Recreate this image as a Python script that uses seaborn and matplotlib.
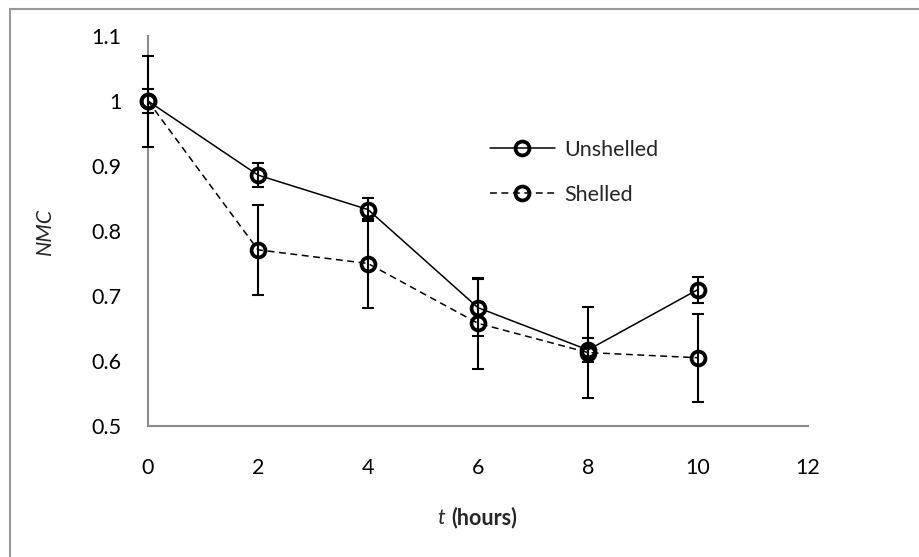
import matplotlib
matplotlib.use("Agg")
import matplotlib.pyplot as plt
import seaborn as sns
import pandas as pd
from matplotlib.lines import Line2D
from matplotlib.patches import Rectangle

# ---- data ----
hours = [0, 2, 4, 6, 8, 10]
unshelled = [1.000, 0.886, 0.833, 0.682, 0.617, 0.710]
unshelled_err = [0.018, 0.019, 0.018, 0.044, 0.018, 0.020]
shelled = [1.000, 0.771, 0.750, 0.658, 0.613, 0.605]
shelled_err = [0.070, 0.069, 0.068, 0.070, 0.070, 0.068]
series_names = ["Unshelled", "Shelled"]
x_ticks = [0, 2, 4, 6, 8, 10, 12]
y_ticks = [0.5, 0.6, 0.7, 0.8, 0.9, 1.0, 1.1]
y_tick_labels = ["0.5", "0.6", "0.7", "0.8", "0.9", "1", "1.1"]

df = pd.DataFrame({
    "t": hours * 2,
    "NMC": unshelled + shelled,
    "series": [series_names[0]] * len(hours) + [series_names[1]] * len(hours),
})

sns.set_style("white")
plt.rcParams["font.family"] = ["Lato", "DejaVu Sans"]
FS = 15.5

fig = plt.figure(figsize=(9.2, 5.57), dpi=100)
W, H = 920, 557
ax = fig.add_axes([148 / W, 1 - 426 / H, (808 - 148) / W, (426 - 36) / H])

# outer chart border (Excel-like)
fig.patches.append(Rectangle((10 / W, -0.05), 1.2, 1 - 9 / H + 0.05,
                             transform=fig.transFigure, fill=False,
                             edgecolor="#999999", linewidth=1.5, zorder=0))

LW = 1.1
MS = 10
MEW = 2.7
dash_styles = {"Unshelled": "", "Shelled": (4.5, 3)}
sns.lineplot(data=df, x="t", y="NMC", hue="series", style="series",
             palette=["black", "black"], dashes=dash_styles,
             markers={"Unshelled": "o", "Shelled": "o"},
             markersize=MS, markerfacecolor="none", markeredgecolor="black",
             markeredgewidth=MEW, linewidth=LW, legend=False, ax=ax, zorder=4)
for ln in ax.lines:
    ln.set_clip_on(False)

for vals, errs in [(shelled, shelled_err), (unshelled, unshelled_err)]:
    eb = ax.errorbar(hours, vals, yerr=errs, fmt="none", ecolor="black",
                     elinewidth=1.5, capsize=4.4, capthick=1.5, zorder=3)
    for child in eb.get_children():
        child.set_clip_on(False)

ax.set_xlim(0, 12)
ax.set_ylim(0.5, 1.1)
ax.set_xticks(x_ticks)
ax.set_yticks(y_ticks)
ax.set_yticklabels(y_tick_labels)
ax.tick_params(axis="both", length=0, labelsize=FS, colors="black")
ax.tick_params(axis="y", pad=19)
ax.tick_params(axis="x", pad=23)
for s in ["top", "right"]:
    ax.spines[s].set_visible(False)
for s in ["left", "bottom"]:
    ax.spines[s].set_color("#8c8c8c")
    ax.spines[s].set_linewidth(1.5)
    ax.spines[s].set_zorder(1)
ax.grid(False)

ax.set_xlabel("")
ax.set_ylabel("NMC", fontsize=FS, style="italic")
ax.yaxis.set_label_coords((55 - 148) / 660, 0.5)

fig.text(445 / W, 1 - 518 / H, "t", fontsize=FS, style="italic",
         ha="right", va="center")
fig.text(451 / W, 1 - 518 / H, "(hours)", fontsize=FS, fontweight="bold",
         ha="left", va="center")

handles = [
    Line2D([], [], color="black", linewidth=LW, marker="o", markersize=MS,
           markerfacecolor="none", markeredgewidth=MEW),
    Line2D([], [], color="black", linewidth=LW, linestyle=(0, (4.5, 3)),
           marker="o", markersize=MS, markerfacecolor="none",
           markeredgewidth=MEW),
]
fig.legend(handles, series_names, loc="upper left",
           bbox_to_anchor=(490 / W, 1 - 140 / H), frameon=False,
           fontsize=FS, handlelength=3.0, handletextpad=0.45,
           labelspacing=1.15, borderpad=0, borderaxespad=0)

fig.savefig("out.png", dpi=100)
